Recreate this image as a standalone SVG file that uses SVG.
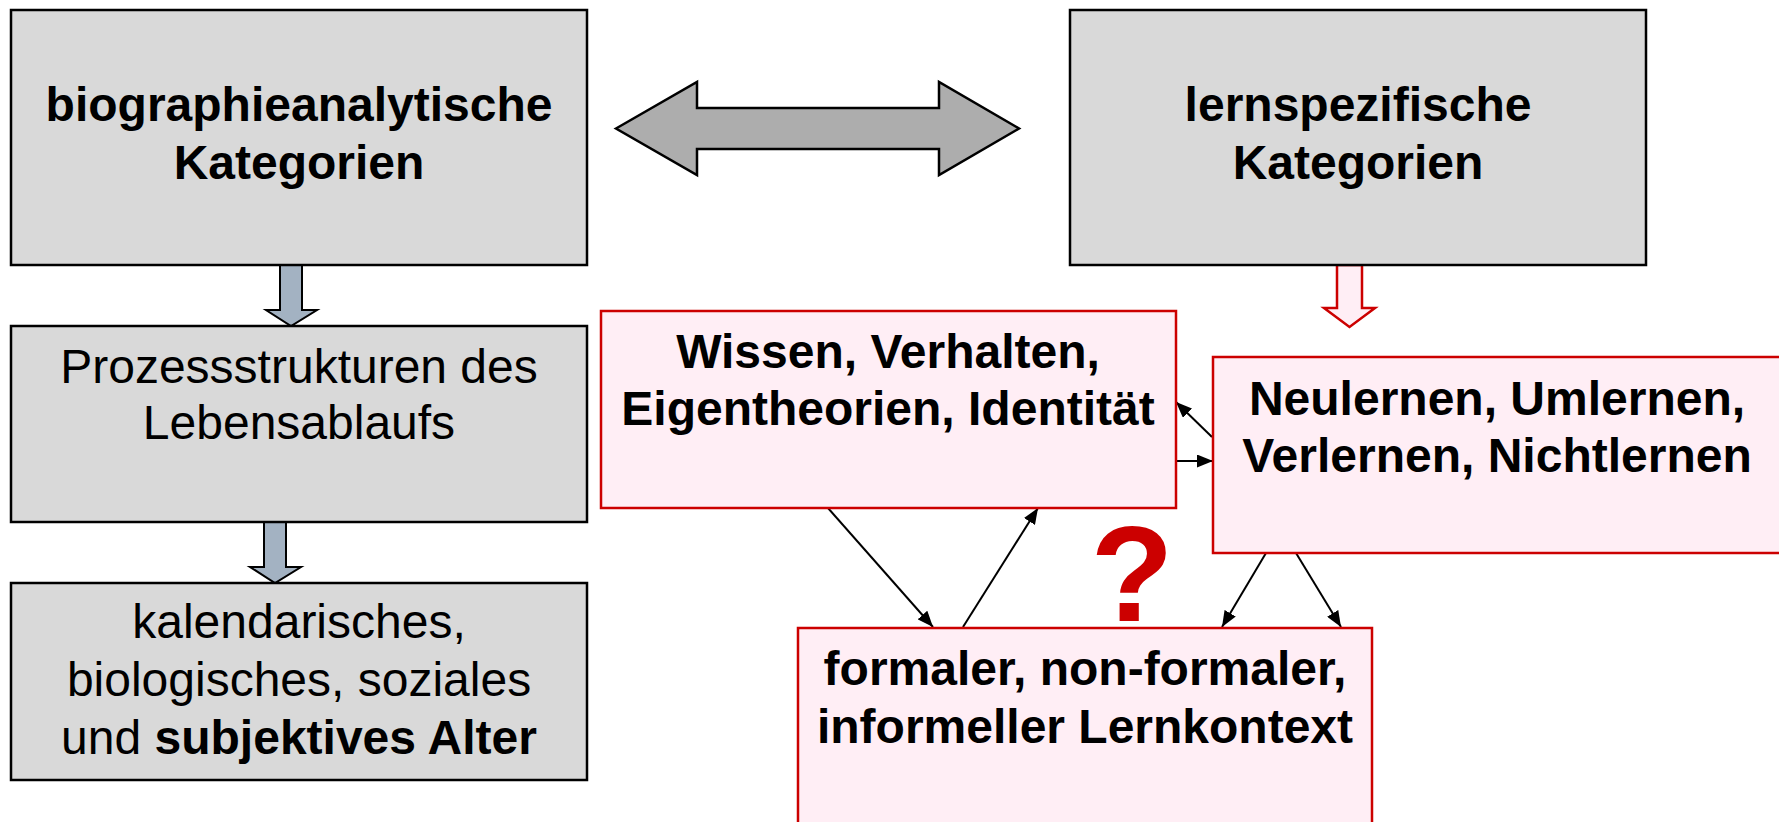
<svg xmlns="http://www.w3.org/2000/svg" width="1779" height="822" viewBox="0 0 1779 822">
<style>
.gbox{fill:#d9d9d9;stroke:#000;stroke-width:2.5}
.pbox{fill:#ffeef5;stroke:#cc0000;stroke-width:2.5}
.t{font-family:"Liberation Sans",Arial,sans-serif;font-size:48px;fill:#000;text-anchor:middle}
.b{font-weight:bold}
.conn{stroke:#000;stroke-width:2;fill:none}
.garrow{fill:#a3b2c2;stroke:#000;stroke-width:2}
</style>
<defs>
<marker id="ah" viewBox="0 0 16 13" refX="16" refY="6.5" markerWidth="16" markerHeight="13" markerUnits="userSpaceOnUse" orient="auto">
<path d="M0,0 L16,6.5 L0,13 z" fill="#000"/>
</marker>
</defs>
<rect width="1779" height="822" fill="#fff"/>

<g id="connectors">
<polygon id="double-arrow" points="616,128.5 697,82 697,108 939,108 939,82 1019,128.5 939,175 939,149 697,149 697,175" fill="#adadad" stroke="#000" stroke-width="2.5" stroke-linejoin="miter"/>
<polygon class="garrow" points="280,265 302,265 302,310 317,310 291,326 266,310 280,310"/>
<polygon class="garrow" points="264,522 286,522 286,567 301,567 275,583 250,567 264,567"/>
<polygon points="1337,265 1362,265 1362,308 1375,308 1349.5,327 1324,308 1337,308" fill="#ffeef5" stroke="#cc0000" stroke-width="2.5"/>
<line class="conn" x1="1212" y1="437" x2="1176" y2="402" marker-end="url(#ah)"/>
<line class="conn" x1="1176" y1="461" x2="1213" y2="461" marker-end="url(#ah)"/>
<line class="conn" x1="828" y1="508" x2="933" y2="627" marker-end="url(#ah)"/>
<line class="conn" x1="963" y1="627" x2="1038" y2="508" marker-end="url(#ah)"/>
<line class="conn" x1="1266" y1="553" x2="1222" y2="627" marker-end="url(#ah)"/>
<line class="conn" x1="1296" y1="553" x2="1341" y2="627" marker-end="url(#ah)"/>
</g>

<g id="biographie">
<rect class="gbox" x="11" y="10" width="576" height="255"/>
<text class="t b" x="299" y="121">biographieanalytische</text>
<text class="t b" x="299" y="179">Kategorien</text>
</g>

<g id="lernspezifisch">
<rect class="gbox" x="1070" y="10" width="576" height="255"/>
<text class="t b" x="1358" y="121">lernspezifische</text>
<text class="t b" x="1358" y="179">Kategorien</text>
</g>

<g id="prozess">
<rect class="gbox" x="11" y="326" width="576" height="196"/>
<text class="t" x="299" y="383">Prozessstrukturen des</text>
<text class="t" x="299" y="439">Lebensablaufs</text>
</g>

<g id="alter">
<rect class="gbox" x="11" y="583" width="576" height="197"/>
<text class="t" x="299" y="638">kalendarisches,</text>
<text class="t" x="299" y="696">biologisches, soziales</text>
<text class="t" x="299" y="754">und <tspan class="b">subjektives Alter</tspan></text>
</g>

<g id="wissen">
<rect class="pbox" x="601" y="311" width="575" height="197"/>
<text class="t b" x="888" y="368">Wissen, Verhalten,</text>
<text class="t b" x="888" y="425">Eigentheorien, Identität</text>
</g>

<g id="neulernen">
<rect class="pbox" x="1213" y="357" width="600" height="196"/>
<text class="t b" x="1497" y="415">Neulernen, Umlernen,</text>
<text class="t b" x="1497" y="472">Verlernen, Nichtlernen</text>
</g>

<g id="lernkontext">
<rect class="pbox" x="798" y="628" width="574" height="220"/>
<text class="t b" x="1085" y="685">formaler, non-formaler,</text>
<text class="t b" x="1085" y="743">informeller Lernkontext</text>
</g>

<g id="frage">
<text x="1132" y="621" font-family="Liberation Sans, Arial, sans-serif" font-weight="bold" font-size="136" fill="#cc0000" text-anchor="middle">?</text>
</g>
</svg>
